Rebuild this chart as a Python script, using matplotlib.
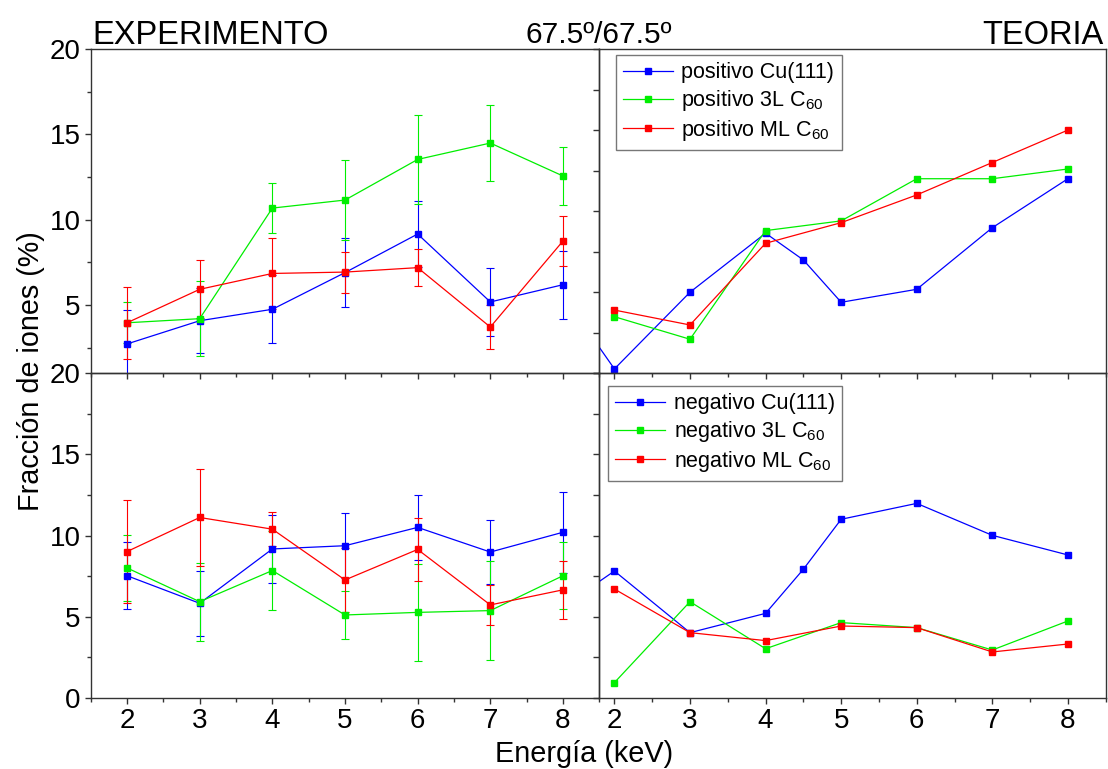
import matplotlib
matplotlib.use("Agg")
import matplotlib.pyplot as plt
from matplotlib.ticker import MultipleLocator, NullFormatter

plt.rcParams["font.family"] = ["Liberation Sans", "DejaVu Sans"]
plt.rcParams["mathtext.fontset"] = "custom"
plt.rcParams["mathtext.rm"] = "Liberation Sans"
plt.rcParams["mathtext.it"] = "Liberation Sans:italic"

# ── Data ───────────────────────────────────────────────────────────────────────
energy = [2, 3, 4, 5, 6, 7, 8]
energy_cu = [1.5, 2, 3, 4, 4.5, 5, 6, 7, 8]

# experiment, positive ions
exp_pos_cu = [2.72, 4.08, 4.75, 6.90, 9.16, 5.18, 6.19]
exp_pos_cu_err = [2.0, 1.9, 2.0, 2.0, 1.95, 2.0, 2.0]
exp_pos_3l = [3.96, 4.20, 10.68, 11.15, 13.53, 14.49, 12.56]
exp_pos_3l_err = [1.2, 2.2, 1.45, 2.35, 2.6, 2.25, 1.7]
exp_pos_ml = [3.96, 5.92, 6.85, 6.93, 7.19, 3.71, 8.75]
exp_pos_ml_err = [2.1, 1.7, 2.1, 1.2, 1.1, 1.3, 1.45]

# experiment, negative ions
exp_neg_cu = [7.52, 5.82, 9.17, 9.37, 10.50, 8.98, 10.20]
exp_neg_cu_err = [2.07, 2.0, 2.1, 2.0, 2.0, 2.0, 2.5]
exp_neg_3l = [8.00, 5.92, 7.84, 5.10, 5.26, 5.37, 7.52]
exp_neg_3l_err = [2.05, 2.4, 2.43, 1.5, 3.0, 3.05, 2.05]
exp_neg_ml = [9.01, 11.11, 10.39, 7.26, 9.14, 5.72, 6.65]
exp_neg_ml_err = [3.2, 3.0, 1.05, 2.0, 1.95, 1.25, 1.8]

# theory
th_pos_cu = [3.6, 0.27, 5.0, 8.64, 6.99, 4.38, 5.18, 8.98, 12.0]
th_pos_3l = [3.49, 2.10, 8.80, 9.40, 12.0, 12.0, 12.6]
th_pos_ml = [3.90, 2.98, 8.02, 9.29, 11.0, 13.0, 15.0]
th_neg_cu = [6.2, 7.81, 4.01, 5.2, 7.92, 11.0, 11.98, 10.01, 8.8]
th_neg_3l = [0.93, 5.92, 3.02, 4.63, 4.32, 2.94, 4.73]
th_neg_ml = [6.7, 4.01, 3.52, 4.42, 4.32, 2.82, 3.31]

BLUE, GREEN, RED = "#0000ff", "#00ee00", "#ff0000"
SPINE = "#333333"

# ── Layout (pixel boxes of the original) ──────────────────────────────────────
W, H = 1108, 769
xl, xm, xr = 90.7, 599.3, 1105.7
yt, ym, yb = 49.0, 373.3, 697.7


def box(x0, x1, y0, y1):
    return [x0 / W, 1 - y1 / H, (x1 - x0) / W, (y1 - y0) / H]


fig = plt.figure(figsize=(W / 100, H / 100), dpi=100)
fig.patch.set_facecolor("white")
ax_tl = fig.add_axes(box(xl, xm, yt, ym))
ax_tr = fig.add_axes(box(xm, xr, yt, ym))
ax_bl = fig.add_axes(box(xl, xm, ym, yb))
ax_br = fig.add_axes(box(xm, xr, ym, yb))


def style(ax, top, left):
    for s in ax.spines.values():
        s.set_color(SPINE)
        s.set_linewidth(1.0)
    ax.set_facecolor("none")
    ax.xaxis.set_major_locator(MultipleLocator(1))
    ax.xaxis.set_minor_locator(MultipleLocator(0.5))
    ax.yaxis.set_major_locator(MultipleLocator(5))
    ax.yaxis.set_minor_locator(MultipleLocator(2.5))
    ax.tick_params(which="both", colors=SPINE, width=1.0, labelsize=20,
                   labelcolor="black", right=False, top=False,
                   direction="out", pad=3)
    ax.tick_params(which="major", length=4.3)
    ax.tick_params(which="minor", length=3.0)
    ax.tick_params(axis="x", which="both", labelbottom=not top)
    if not left:
        ax.tick_params(axis="y", which="both", labelleft=False)
        ax.yaxis.set_major_locator(MultipleLocator(2.5))
        ax.yaxis.set_minor_formatter(NullFormatter())


def exp_series(ax, y, err, color):
    ax.errorbar(energy, y, yerr=err, color=color, lw=0.9, marker="s", ms=5,
                elinewidth=0.8, capsize=3, capthick=0.8)


def th_series(ax, x, y, color, label):
    ax.plot(x, y, color=color, lw=0.9, marker="s", ms=5, label=label)


exp_series(ax_tl, exp_pos_cu, exp_pos_cu_err, BLUE)
exp_series(ax_tl, exp_pos_3l, exp_pos_3l_err, GREEN)
exp_series(ax_tl, exp_pos_ml, exp_pos_ml_err, RED)

exp_series(ax_bl, exp_neg_cu, exp_neg_cu_err, BLUE)
exp_series(ax_bl, exp_neg_3l, exp_neg_3l_err, GREEN)
exp_series(ax_bl, exp_neg_ml, exp_neg_ml_err, RED)

th_series(ax_tr, energy_cu, th_pos_cu, BLUE, "positivo Cu(111)")
th_series(ax_tr, energy, th_pos_3l, GREEN, "positivo 3L C$_{60}$")
th_series(ax_tr, energy, th_pos_ml, RED, "positivo ML C$_{60}$")

th_series(ax_br, energy_cu, th_neg_cu, BLUE, "negativo Cu(111)")
th_series(ax_br, energy, th_neg_3l, GREEN, "negativo 3L C$_{60}$")
th_series(ax_br, energy, th_neg_ml, RED, "negativo ML C$_{60}$")

ax_tl.set_xlim(1.5, 8.5)
ax_bl.set_xlim(1.5, 8.5)
ax_tr.set_xlim(1.8, 8.5)
ax_br.set_xlim(1.8, 8.5)
ax_tl.set_ylim(1, 20)
ax_bl.set_ylim(0, 20)
ax_tr.set_ylim(0, 20)
ax_br.set_ylim(0, 20)

style(ax_tl, top=True, left=True)
style(ax_tr, top=True, left=False)
style(ax_bl, top=False, left=True)
style(ax_br, top=False, left=False)
ax_tl.set_yticks([5, 10, 15, 20])
ax_bl.set_yticks([0, 5, 10, 15, 20])

for ax, anchor in ((ax_tr, (0.032, 0.982)), (ax_br, (0.017, 0.961))):
    leg = ax.legend(loc="upper left", bbox_to_anchor=anchor, borderaxespad=0,
                    fontsize=15.5, frameon=True, fancybox=False, handlelength=2.3,
                    handletextpad=0.4, labelspacing=0.22, borderpad=0.35)
    leg.get_frame().set_edgecolor("#555555")
    leg.get_frame().set_linewidth(1.0)

fig.text(92.7 / W, 1 - 43.5 / H, "EXPERIMENTO", fontsize=23.5, ha="left", va="baseline")
fig.text(598.8 / W, 1 - 43 / H, "67.5º/67.5º", fontsize=21.5, ha="center", va="baseline")
fig.text(1103.3 / W, 1 - 43.5 / H, "TEORIA", fontsize=23.5, ha="right", va="baseline")
fig.text(584 / W, 1 - 762 / H, "Energía (keV)", fontsize=20.8, ha="center", va="baseline")
fig.text(31 / W, 1 - 371 / H, "Fracción de iones (%)", fontsize=20.7, rotation=90,
         ha="center", va="center")

fig.savefig("out.png", dpi=100, facecolor="white")
